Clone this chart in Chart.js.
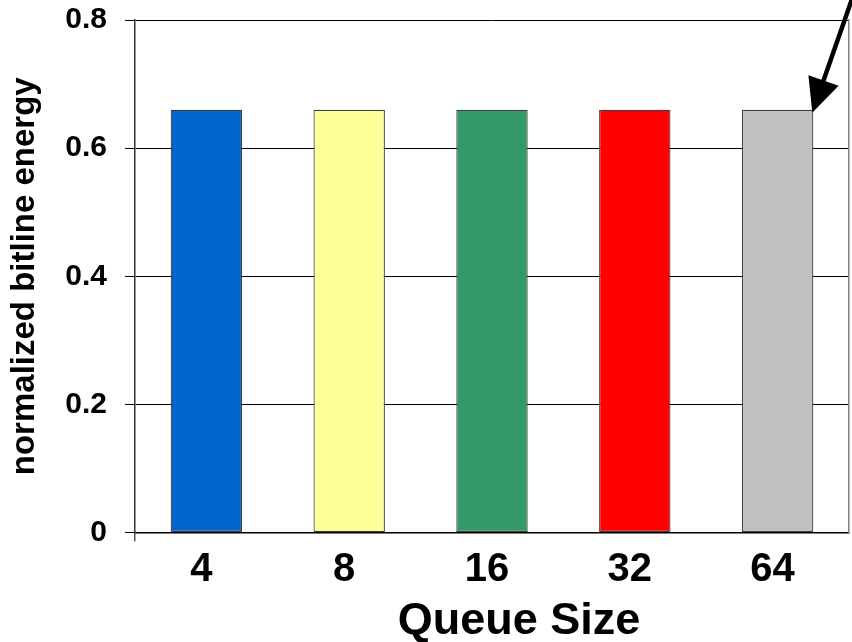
<!DOCTYPE html>
<html>
<head>
<meta charset="utf-8">
<script src="https://cdn.jsdelivr.net/npm/chart.js@4/dist/chart.umd.min.js"></script>
<style>
  html, body { margin: 0; padding: 0; background: #ffffff; }
  #wrap { width: 852px; height: 642px; position: relative; }
</style>
</head>
<body>
<div id="wrap"><canvas id="c" width="852" height="642"></canvas></div>
<script>
const categories = ['4', '8', '16', '32', '64'];
const energyValues = [0.66, 0.66, 0.66, 0.66, 0.66];
const barColors = ['#0066CC', '#FFFF99', '#339966', '#FF0000', '#C0C0C0'];
const yTicks = [0, 0.2, 0.4, 0.6, 0.8];
const xTitle = 'Queue Size';
const yTitle = 'normalized bitline energy';

const FONT = '"Liberation Sans", Arial, Helvetica, sans-serif';

const arrowPlugin = {
  id: 'arrowAnnot',
  afterDatasetsDraw(chart) {
    const meta = chart.getDatasetMeta(0);
    const bar = meta.data[meta.data.length - 1];
    if (!bar) return;
    const props = bar.getProps(['x', 'y', 'width'], true);
    const tipX = props.x + props.width / 2 - 1;
    const tipY = props.y + 3;
    const tailX = chart.width;
    const tailY = -1;
    const dx = tipX - tailX, dy = tipY - tailY;
    const len = Math.sqrt(dx * dx + dy * dy);
    const ux = dx / len, uy = dy / len;
    const headLen = 34, headHalf = 16;
    const bx = tipX - ux * headLen, by = tipY - uy * headLen;
    const ctx = chart.ctx;
    ctx.save();
    ctx.strokeStyle = '#000';
    ctx.fillStyle = '#000';
    ctx.lineWidth = 4.5;
    ctx.beginPath();
    ctx.moveTo(tailX, tailY);
    ctx.lineTo(bx + ux * 4, by + uy * 4);
    ctx.stroke();
    ctx.beginPath();
    ctx.moveTo(tipX, tipY);
    ctx.lineTo(bx - uy * headHalf, by + ux * headHalf);
    ctx.lineTo(bx + uy * headHalf, by - ux * headHalf);
    ctx.closePath();
    ctx.fill();
    ctx.restore();
  }
};

const xTitlePlugin = {
  id: 'xTitleText',
  afterDraw(chart) {
    const area = chart.chartArea;
    const ctx = chart.ctx;
    ctx.save();
    ctx.fillStyle = '#000';
    ctx.font = 'bold 45px ' + FONT;
    ctx.textAlign = 'center';
    ctx.textBaseline = 'alphabetic';
    ctx.fillText(xTitle, (area.left + area.right) / 2 + 27, area.bottom + 101);
    ctx.restore();
  }
};

const edgeTickColor = c => (c.index === 0 || c.index === categories.length) ? '#555' : 'rgba(0,0,0,0)';

new Chart(document.getElementById('c'), {
  type: 'bar',
  data: {
    labels: categories,
    datasets: [{
      data: energyValues,
      backgroundColor: barColors,
      borderColor: '#404040',
      borderWidth: 1.2,
      borderSkipped: false,
      categoryPercentage: 0.5,
      barPercentage: 1.0
    }]
  },
  options: {
    responsive: false,
    animation: false,
    devicePixelRatio: 1,
    layout: { padding: { top: 20, right: 3, left: 0, bottom: 0 } },
    plugins: {
      legend: { display: false },
      tooltip: { enabled: false },
      title: { display: false }
    },
    scales: {
      x: {
        grid: {
          display: true,
          drawOnChartArea: false,
          drawTicks: true,
          tickLength: 9,
          color: edgeTickColor,
          tickColor: edgeTickColor,
          lineWidth: 1.5
        },
        border: { display: true, color: '#000', width: 1.5 },
        ticks: {
          color: '#000',
          font: { family: FONT, size: 40, weight: 'bold' },
          padding: 4,
          labelOffset: -5
        },
        afterFit(scale) {
          scale.height = 109.5;
          scale.paddingLeft = 0;
          scale.paddingRight = 0;
        }
      },
      y: {
        min: 0,
        max: 0.8,
        afterBuildTicks(scale) { scale.ticks = yTicks.map(v => ({ value: v })); },
        ticks: {
          color: '#000',
          font: { family: FONT, size: 30, weight: 'bold' },
          padding: 18,
          callback: v => (v === 0 ? '0' : v.toFixed(1))
        },
        grid: { color: '#000', lineWidth: 1, tickLength: 10, drawTicks: true, tickColor: '#000' },
        border: { display: true, color: '#333', width: 1.5 },
        title: {
          display: true,
          text: yTitle,
          color: '#000',
          font: { family: FONT, size: 33, weight: 'bold' },
          padding: { top: 5, bottom: 0 }
        },
        afterFit(scale) {
          scale.width = 135;
          scale.paddingTop = 0;
          scale.paddingBottom = 0;
        }
      },
      y2: {
        position: 'right',
        min: 0,
        max: 0.8,
        ticks: { display: false },
        grid: { drawOnChartArea: false, drawTicks: false },
        border: { display: true, color: '#808080', width: 1.5 },
        afterFit(scale) {
          scale.width = 0;
          scale.paddingTop = 0;
          scale.paddingBottom = 0;
        }
      }
    }
  },
  plugins: [arrowPlugin, xTitlePlugin]
});
</script>
</body>
</html>
